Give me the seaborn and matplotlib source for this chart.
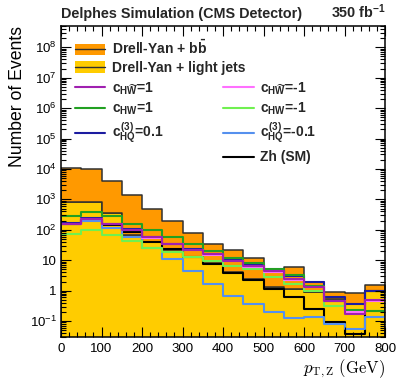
import numpy as np
import pandas as pd
import matplotlib
matplotlib.use("Agg")
import matplotlib.pyplot as plt
import seaborn as sns
from matplotlib.lines import Line2D
from matplotlib.patches import Patch
from matplotlib.ticker import MultipleLocator, LogLocator, FixedLocator, FuncFormatter, NullFormatter

# binning in pT(Z), 50 GeV bins
edges = list(range(0, 801, 50))
centers = [e + 25 for e in edges[:-1]]

# backgrounds (stacked)
dy_bb = [9670, 9370, 3640, 1300, 438, 178, 68, 27.5, 17.3, 9.9, 3.8, 4.67, 0.99, 0.35, 0.47, 0.62]
dy_light = [830, 830, 360, 70, 40, 20, 13, 8.0, 4.2, 2.4, 1.3, 1.13, 0.88, 0.53, 0.37, 0.95]

# signal hypotheses
c_hwt_p1 = [161, 235, 153, 100, 57, 34, 22, 16, 9.6, 6.5, 4.5, 2.5, 1.30, 0.45, 0.17, 0.50]
c_hwt_m1 = [155, 225, 150, 97, 55, 33, 21.5, 15, 9.2, 6.1, 4.0, 2.3, 1.28, 0.47, 0.20, 0.45]
c_hw_p1 = [274, 389, 274, 155, 98, 56, 34, 20.5, 12.3, 8.3, 5.0, 3.3, 1.40, 0.45, 0.23, 0.22]
c_hw_m1 = [72, 100, 67, 44, 25, 18.5, 13, 9.6, 6.6, 5.1, 2.9, 1.66, 1.00, 0.32, 0.195, 0.22]
c_hq_p01 = [170, 240, 158, 103, 58, 35, 23, 16.5, 10, 7.0, 4.9, 3.1, 1.87, 0.60, 0.37, 1.0]
c_hq_m01 = [150, 200, 115, 56, 26, 11, 4.3, 1.66, 0.65, 0.37, 0.195, 0.13, 0.133, 0.081, 0.055, 0.14]
zh_sm = [150, 210, 140, 86, 40, 24, 13, 7.5, 3.7, 2.3, 1.16, 0.60, 0.25, 0.09, 0.038, 0.95]

bkg_names = ["Drell-Yan + b$\\bar{\\mathrm{b}}$", "Drell-Yan + light jets"]
sig_names = ["$c_{H\\widetilde{W}}$=1", "$c_{H\\widetilde{W}}$=-1",
             "$c_{HW}$=1", "$c_{HW}$=-1",
             "$c^{(3)}_{HQ}$=0.1", "$c^{(3)}_{HQ}$=-0.1", "Zh (SM)"]
sig_colors = ["#a020b0", "#ff70ff", "#22a022", "#70f050", "#1c1ca0", "#5590ee", "#000000"]
bkg_colors = ["#ff9900", "#ffcc00"]

sns.set_style("ticks")
plt.rcParams["font.family"] = ["Liberation Sans", "DejaVu Sans"]
plt.rcParams["mathtext.fontset"] = "custom"
plt.rcParams["mathtext.rm"] = "Liberation Sans:bold"
plt.rcParams["mathtext.it"] = "Liberation Sans:bold"
plt.rcParams["mathtext.bf"] = "Liberation Sans:bold"
plt.rcParams["axes.axisbelow"] = False

n = len(centers)
bkg = pd.DataFrame({
    "pt": centers * 2,
    "events": dy_bb + dy_light,
    "process": [bkg_names[0]] * n + [bkg_names[1]] * n,
})
sig = pd.DataFrame({
    "pt": centers * 7,
    "events": c_hwt_p1 + c_hwt_m1 + c_hw_p1 + c_hw_m1 + c_hq_p01 + c_hq_m01 + zh_sm,
    "model": [name for name in sig_names for _ in range(n)],
})

fig = plt.figure(figsize=(4.07, 3.87), dpi=100)
ax = fig.add_axes([61 / 407, 1 - 337 / 387, 324 / 407, 311 / 387])
ax.set_yscale("log")

sns.histplot(data=bkg, x="pt", weights="events", hue="process", hue_order=bkg_names,
             palette=bkg_colors, multiple="stack", bins=edges, element="step",
             fill=True, alpha=1, edgecolor="#303030", linewidth=1.1, legend=False, ax=ax)
sns.histplot(data=sig, x="pt", weights="events", hue="model", hue_order=sig_names,
             palette=sig_colors, multiple="layer", bins=edges, element="step",
             fill=False, linewidth=1.5, legend=False, ax=ax)

ax.set_xlim(0, 800)
ax.set_ylim(0.03, 5e8)
ax.set_axisbelow(False)

def pow10(v, pos):
    e = int(round(np.log10(v)))
    if e == 0:
        return "1"
    if e == 1:
        return "10"
    return "$\\mathregular{10^{%d}}$" % e

ax.xaxis.set_major_locator(FixedLocator(list(range(0, 801, 100))))
ax.xaxis.set_minor_locator(MultipleLocator(20))
ax.yaxis.set_major_locator(FixedLocator([10.0 ** e for e in range(-1, 9)]))
ax.yaxis.set_minor_locator(LogLocator(base=10, subs=np.arange(2, 10), numticks=20))
ax.yaxis.set_major_formatter(FuncFormatter(pow10))
ax.yaxis.set_minor_formatter(NullFormatter())
ax.tick_params(which="both", direction="in", top=True, right=True, width=0.8,
               color="black", labelcolor="black", labelsize=9.5)
ax.tick_params(which="major", length=7)
ax.tick_params(which="minor", length=3.5)
ax.tick_params(axis="x", pad=4)
ax.tick_params(axis="y", pad=3)
for s in ax.spines.values():
    s.set_linewidth(1.1)
    s.set_color("black")
    s.set_zorder(5)

ax.set_ylabel("Number of Events", loc="top", fontsize=12.7, labelpad=3, color="black")
ax.set_xlabel("$p_{\\mathrm{T,Z}}\\ \\mathrm{(GeV)}$", loc="right", fontsize=12,
              math_fontfamily="cm", labelpad=2, color="black")

fig.text(61 / 407, 1 - 18.3 / 387, "Delphes Simulation (CMS Detector)", fontsize=10.4,
         weight="bold", ha="left", va="baseline")
fig.text(386 / 407, 1 - 18.3 / 387, "350 fb$^{-1}$", fontsize=10.4,
         weight="bold", ha="right", va="baseline")

# legends
fill_handles = [(Patch(facecolor=c, edgecolor="none"), Line2D([], [], color="#303030", lw=1))
                for c in bkg_colors]
leg1 = ax.legend(fill_handles, bkg_names, loc="upper left", bbox_to_anchor=(0.043, 0.957),
                 frameon=False, borderpad=0, borderaxespad=0, handlelength=2.2,
                 handleheight=0.9, handletextpad=0.45, labelspacing=0.25,
                 prop={"weight": "bold", "size": 10})
ax.add_artist(leg1)

line_handles = [Line2D([], [], color=c, lw=1.5) for c in sig_colors]
left = [0, 2, 4]
right = [1, 3, 5, 6]
leg2 = ax.legend([line_handles[i] for i in left], [sig_names[i] for i in left],
                 loc="upper left", bbox_to_anchor=(0.043, 0.826), frameon=False,
                 borderpad=0, borderaxespad=0, handlelength=2.2, handletextpad=0.45,
                 labelspacing=0.3, prop={"weight": "bold", "size": 10})
ax.add_artist(leg2)
leg3 = ax.legend([line_handles[i] for i in right], [sig_names[i] for i in right],
                 loc="upper left", bbox_to_anchor=(0.5, 0.826), frameon=False,
                 borderpad=0, borderaxespad=0, handlelength=2.2, handletextpad=0.45,
                 labelspacing=0.3, prop={"weight": "bold", "size": 10})

fig.savefig("out.png", dpi=100)
